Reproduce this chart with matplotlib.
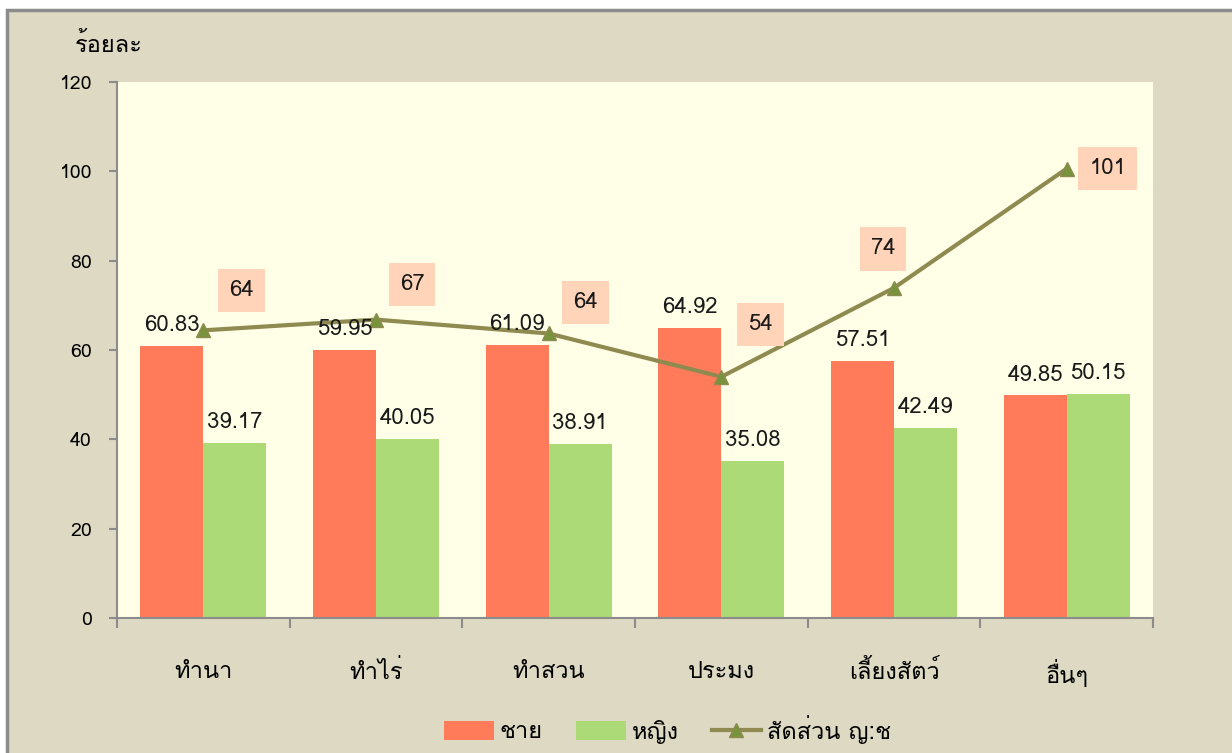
import numpy as np
import matplotlib
matplotlib.use('Agg')
import matplotlib.pyplot as plt
from matplotlib import font_manager
from matplotlib.patches import Rectangle
from matplotlib.ft2font import FT2Font

# pick an installed font that has Thai glyphs
thai_font = None
for f in font_manager.fontManager.ttflist:
    try:
        cmap = FT2Font(f.fname).get_charmap()
        if 0x0E01 in cmap and 0x0E49 in cmap:
            thai_font = f.name
            break
    except Exception:
        pass
families = ['DejaVu Sans']
if thai_font:
    families = [thai_font, 'DejaVu Sans']
plt.rcParams['font.family'] = families

categories = ['ทำนา', 'ทำไร่', 'ทำสวน', 'ประมง', 'เลี้ยงสัตว์', 'อื่นๆ']
male = [60.83, 59.95, 61.09, 64.92, 57.51, 49.85]
female = [39.17, 40.05, 38.91, 35.08, 42.49, 50.15]
ratio = [64.4, 66.8, 63.7, 54.0, 73.9, 100.6]
ratio_labels = ['64', '67', '64', '54', '74', '101']
ratio_offsets = [(38, 40), (36, 35), (37, 31), (39, 52), (-11, 39), (41, 0)]

bg = '#DDD9C3'
fig = plt.figure(figsize=(12.32, 7.53), dpi=100, facecolor='white')
fig.patches.append(Rectangle((7 / 1232, -0.05), 1.1, (753 - 10) / 753 + 0.05,
                             transform=fig.transFigure, facecolor=bg,
                             edgecolor='#8C8C8C', linewidth=2.5, zorder=-1))
ax = fig.add_axes([117 / 1232, 1 - 618 / 753, (1153 - 117) / 1232, (618 - 82) / 753])
ax.set_facecolor('#FFFFE8')

x = np.arange(len(categories))
w = 0.365
b1 = ax.bar(x - w / 2, male, w, color='#FF7B5A', label='ชาย', zorder=2)
b2 = ax.bar(x + w / 2, female, w, color='#ABDA77', label='หญิง', zorder=2)
ln, = ax.plot(x, ratio, color='#8F8A4F', lw=3, marker='^', ms=10,
              markerfacecolor='#77933C', markeredgecolor='#8F8A4F',
              label='สัดส่วน ญ:ช', zorder=4)

for i in range(len(categories)):
    ax.text(x[i] - w / 2, male[i] + 2.2, f'{male[i]:.2f}', ha='center', va='bottom',
            fontsize=16, color='#1a1a1a', zorder=5)
    ax.text(x[i] + w / 2, female[i] + 2.2, f'{female[i]:.2f}', ha='center', va='bottom',
            fontsize=16, color='#1a1a1a', zorder=5)
    dx, dy = ratio_offsets[i]
    ax.annotate(ratio_labels[i], (x[i], ratio[i]), xytext=(dx * 0.72, dy * 0.72),
                textcoords='offset points', ha='center', va='center', fontsize=16,
                color='#1a1a1a', zorder=5,
                bbox=dict(boxstyle='square,pad=0.5', facecolor='#FFD4B8', edgecolor='none'))

ax.set_xlim(-0.5, len(categories) - 0.5)
ax.set_ylim(0, 120)
ax.set_yticks(range(0, 121, 20))
ax.set_xticks(np.arange(-0.5, len(categories), 1))
ax.set_xticklabels([])
ax.set_xticks(x, minor=True)
ax.set_xticklabels(categories, minor=True, fontsize=17)
ax.tick_params(axis='x', which='minor', length=0, pad=30)
ax.tick_params(axis='x', which='major', length=7, width=1.5, color='#8C8C8C')
ax.tick_params(axis='y', length=6, width=1.5, color='#8C8C8C', labelsize=14, pad=12)
for s in ['top', 'right']:
    ax.spines[s].set_visible(False)
for s in ['left', 'bottom']:
    ax.spines[s].set_color('#8C8C8C')
    ax.spines[s].set_linewidth(1.5)

fig.text(75 / 1232, 1 - 45 / 753, 'ร้อยละ', fontsize=17, va='center', ha='left')

fig.legend([b1, b2, ln], ['ชาย', 'หญิง', 'สัดส่วน ญ:ช'], loc='center',
           bbox_to_anchor=(0.542, 1 - 729 / 753), ncol=3,
           frameon=False, fontsize=17, handlelength=2.1, handleheight=0.9,
           columnspacing=1.4, handletextpad=0.25)

fig.savefig('out.png', dpi=100, facecolor=fig.get_facecolor())
